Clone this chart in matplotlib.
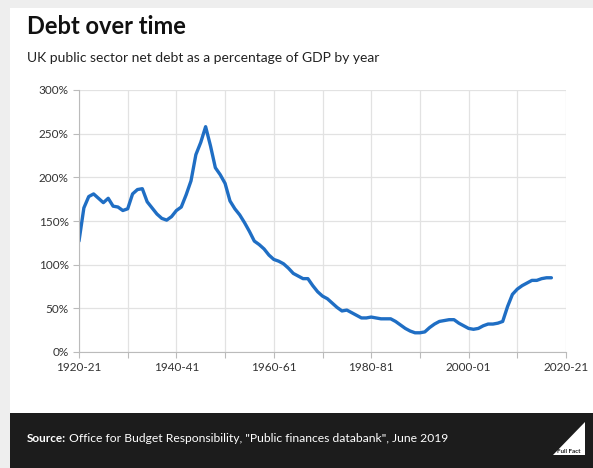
import matplotlib
matplotlib.use("Agg")
import matplotlib.pyplot as plt
from matplotlib.patches import Rectangle, Polygon

plt.rcParams["font.family"] = ["Lato", "DejaVu Sans"]

# UK public sector net debt, % of GDP
years = list(range(1920, 2018))
debt = [127, 165, 178, 181, 176, 171, 176, 167, 166, 162,
        164, 181, 186, 187, 172, 165, 158, 153, 151, 155,
        162, 166, 180, 196, 226, 240, 258, 236, 211, 203,
        193, 173, 164, 157, 148, 138, 127, 123, 118, 111,
        106, 104, 101, 96, 90, 87, 84, 84, 76, 69,
        64, 61, 56, 51, 47, 48, 45, 42, 39, 39,
        40, 39, 38, 38, 38, 35, 31, 27, 24, 22,
        22, 23, 28, 32, 35, 36, 37, 37, 33, 30,
        27, 26, 27, 30, 32, 32, 33, 35, 52, 66,
        72, 76, 79, 82, 82, 84, 85, 85]

tick_years = [1920, 1930, 1940, 1950, 1960, 1970, 1980, 1990, 2000, 2010, 2020]
tick_labels = ["1920-21", "", "1940-41", "", "1960-61", "", "1980-81", "", "2000-01", "", "2020-21"]
y_ticks = [0, 50, 100, 150, 200, 250, 300]

fig = plt.figure(figsize=(5.93, 4.68), dpi=100)
fig.patch.set_facecolor("#eeeeee")

# white card and dark footer
fig.add_artist(Rectangle((10 / 593, 0), 1, (468 - 8) / 468, transform=fig.transFigure,
                         facecolor="white", edgecolor="none", zorder=0))
fig.add_artist(Rectangle((10 / 593, 0), 1, (468 - 413) / 468, transform=fig.transFigure,
                         facecolor="#1c1c1c", edgecolor="none", zorder=1))
fig.add_artist(Polygon([(553 / 593, 13 / 468), (585 / 593, 13 / 468), (585 / 593, 46 / 468)],
                       closed=True, transform=fig.transFigure, facecolor="white",
                       edgecolor="none", zorder=2))
fig.text(557 / 593, 15 / 468, "Full Fact", color="#1c1c1c", fontsize=4.5,
         fontweight="bold", zorder=3)

ax = fig.add_axes([79 / 593, (468 - 352) / 468, (566 - 79) / 593, (352 - 90) / 468])
ax.plot(years, debt, color="#1f6ec4", linewidth=2.4, solid_capstyle="round")

ax.set_xlim(1920, 2020)
ax.set_ylim(0, 300)
ax.set_xticks(tick_years)
ax.set_xticklabels(tick_labels)
ax.set_yticks(y_ticks)
ax.set_yticklabels([f"{v}%" for v in y_ticks])
ax.grid(True, color="#e2e2e2", linewidth=0.9)
ax.set_axisbelow(True)
for s in ["top", "right"]:
    ax.spines[s].set_visible(False)
for s in ["left", "bottom"]:
    ax.spines[s].set_color("#bbbbbb")
ax.tick_params(axis="both", colors="#bbbbbb", labelcolor="#333333", labelsize=8.5, length=4)

fig.text(27 / 593, 1 - 27 / 468, "Debt over time", fontsize=17, fontweight="bold",
         color="#111111", va="center")
fig.text(27 / 593, 1 - 58 / 468, "UK public sector net debt as a percentage of GDP by year",
         fontsize=10, color="#222222", va="center")

fig.text(27 / 593, 1 - 439 / 468, "Source:", fontsize=8.5, fontweight="bold",
         color="white", va="center")
fig.text(69 / 593, 1 - 439 / 468,
         "Office for Budget Responsibility, \"Public finances databank\", June 2019",
         fontsize=8.7, color="white", va="center")

fig.savefig("out.png", dpi=100, facecolor=fig.get_facecolor())
